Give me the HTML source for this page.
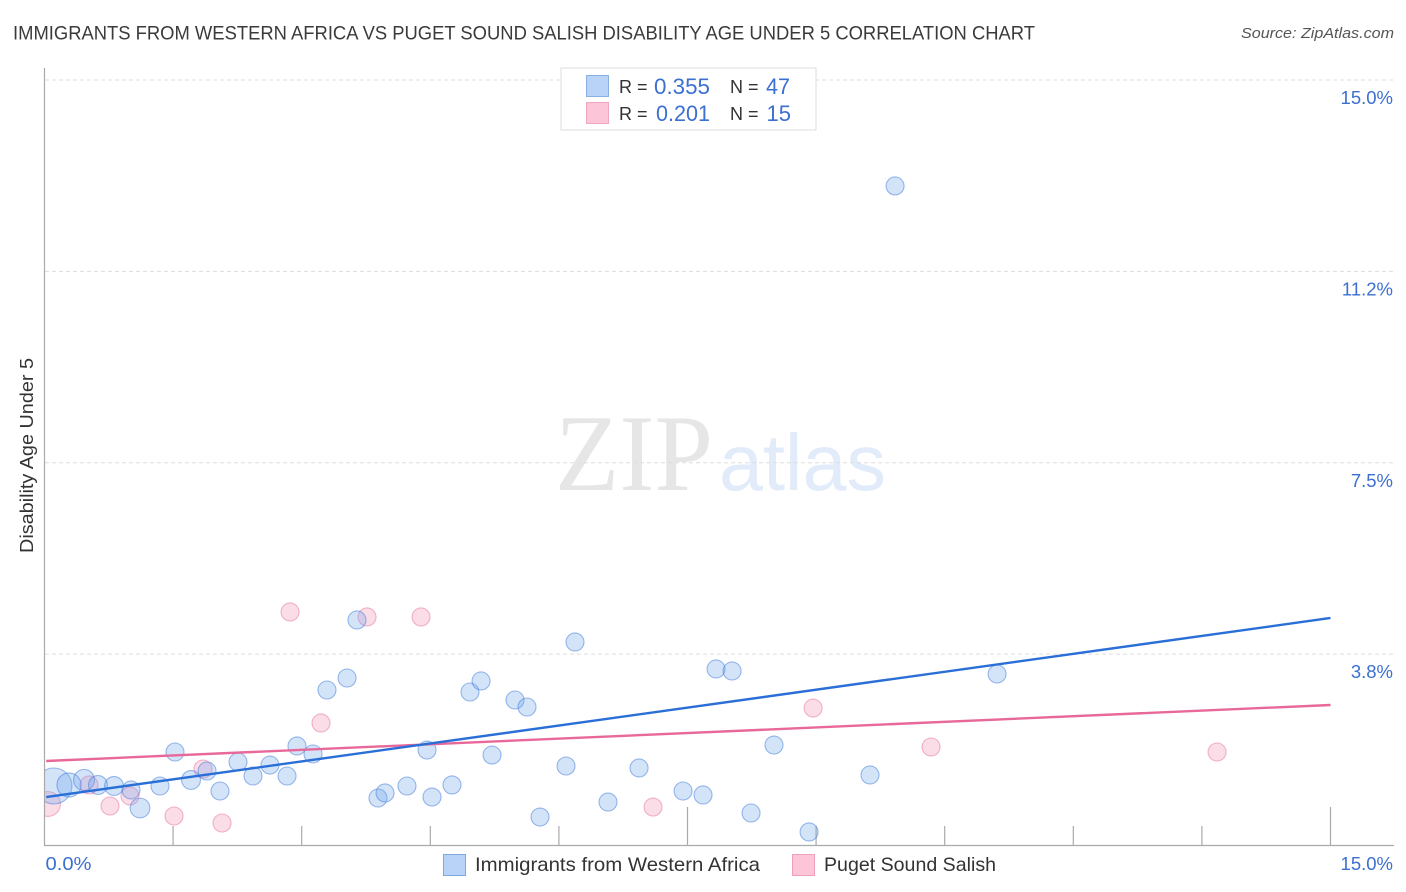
<!DOCTYPE html>
<html lang="en">
<head>
<meta charset="utf-8">
<title>Immigrants from Western Africa vs Puget Sound Salish Disability Age Under 5 Correlation Chart</title>
<style>
html,body{margin:0;padding:0;background:#fff;}
svg{display:block;font-family:"Liberation Sans",sans-serif;}
</style>
</head>
<body>
<svg id="chart" xmlns="http://www.w3.org/2000/svg" width="1406" height="892" viewBox="0 0 1406 892">
  <defs>
    <clipPath id="plot-clip"><rect x="45" y="68" width="1349" height="777"/></clipPath>
  </defs>
  <rect x="0" y="0" width="1406" height="892" fill="#ffffff"/>
  <text x="13" y="39.5" font-size="19.5" fill="#3a3a3a" textLength="1022" lengthAdjust="spacingAndGlyphs">IMMIGRANTS FROM WESTERN AFRICA VS PUGET SOUND SALISH DISABILITY AGE UNDER 5 CORRELATION CHART</text>
  <text x="1394" y="38" font-size="15" font-style="italic" fill="#555555" text-anchor="end" textLength="153" lengthAdjust="spacingAndGlyphs">Source: ZipAtlas.com</text>

  <g>
    <text x="555" y="490" font-family="'Liberation Serif',serif" font-size="109" fill="#e6e6e6" textLength="158" lengthAdjust="spacingAndGlyphs">ZIP</text>
    <text x="719" y="490" font-size="80" fill="#e1ebf9" textLength="167" lengthAdjust="spacingAndGlyphs">atlas</text>
  </g>

  <g id="grid"></g>
  <g id="x-ticks"></g>
  <line x1="44.5" y1="68" x2="44.5" y2="845.5" stroke="#aaaaaa" stroke-width="1.2"/>
  <line x1="44" y1="845.5" x2="1394" y2="845.5" stroke="#aaaaaa" stroke-width="1.2"/>
  <g id="points" clip-path="url(#plot-clip)"></g>
  <g id="trends"></g>
  <g id="y-labels"></g>
  <g id="x-labels"></g>

  <text transform="translate(33,553) rotate(-90)" font-size="18.5" fill="#333333" textLength="195" lengthAdjust="spacingAndGlyphs">Disability Age Under 5</text>

  <g>
    <rect x="561" y="68" width="255" height="62" fill="#ffffff" stroke="#dddddd" stroke-width="1"/>
    <rect x="586.5" y="75.5" width="22" height="21" fill="#b9d3f8" stroke="#8ab0e0" stroke-width="1"/>
    <rect x="586.5" y="102.5" width="22" height="21" fill="#fcc5d8" stroke="#f0a8c2" stroke-width="1"/>
    <text x="619" y="93" font-size="18" fill="#333333">R =</text>
    <text x="710" y="94" font-size="22" fill="#3b6fd0" text-anchor="end" textLength="56" lengthAdjust="spacingAndGlyphs">0.355</text>
    <text x="730" y="93" font-size="18" fill="#333333">N =</text>
    <text x="790" y="94" font-size="22" fill="#3b6fd0" text-anchor="end" textLength="24" lengthAdjust="spacingAndGlyphs">47</text>
    <text x="619" y="120" font-size="18" fill="#333333">R =</text>
    <text x="710" y="121" font-size="22" fill="#3b6fd0" text-anchor="end" textLength="54" lengthAdjust="spacingAndGlyphs">0.201</text>
    <text x="730" y="120" font-size="18" fill="#333333">N =</text>
    <text x="791" y="121" font-size="22" fill="#3b6fd0" text-anchor="end">15</text>
  </g>

  <g>
    <rect x="443.5" y="854.5" width="22" height="21" fill="#b9d3f8" stroke="#7fa8de" stroke-width="1"/>
    <text x="475" y="871" font-size="19.5" fill="#333333" textLength="285" lengthAdjust="spacingAndGlyphs">Immigrants from Western Africa</text>
    <rect x="792.5" y="854.5" width="22" height="21" fill="#fcc5d8" stroke="#f0a0bd" stroke-width="1"/>
    <text x="824" y="871" font-size="19.5" fill="#333333" textLength="172" lengthAdjust="spacingAndGlyphs">Puget Sound Salish</text>
  </g>
</svg>
<script>
const yTickValues = [15, 11.25, 7.5, 3.75];
const yTickLabels = ["15.0%", "11.2%", "7.5%", "3.8%"];
const xTickValues = [1.5, 3, 4.5, 6, 7.5, 9, 10.5, 12, 13.5, 15];
const xMajorTicks = [7.5, 15];
const xEdgeValues = [0, 15];
const xEdgeLabels = ["0.0%", "15.0%"];

const blueX = [0.11,0.286,0.461,0.624,0.811,1.009,1.114,1.347,1.522,1.709,1.896,2.047,2.257,2.432,2.63,2.829,2.945,3.132,3.295,3.529,3.645,3.89,3.972,4.228,4.462,4.52,4.753,4.963,5.092,5.22,5.488,5.628,5.78,6.083,6.188,6.573,6.935,7.448,7.681,7.833,8.02,8.241,8.509,8.918,9.629,9.921,11.111];
const blueY = [1.166,1.186,1.284,1.186,1.166,1.088,0.735,1.166,1.832,1.284,1.46,1.068,1.636,1.362,1.577,1.362,1.95,1.793,3.047,3.282,4.419,0.931,1.029,1.166,1.871,0.95,1.186,3.008,3.224,1.773,2.851,2.714,0.558,1.558,3.988,0.852,1.519,1.068,0.99,3.459,3.42,0.637,1.969,0.265,1.382,12.924,3.361];
const blueWeight = [4,1.8,1.36,1.1,1.1,1,1.2,1,1,1.1,1,1,1,1,1,1,1,1,1,1,1,1,1,1,1,1,1,1,1,1,1,1,1,1,1,1,1,1,1,1,1,1,1,1,1,1,1];

const pinkX = [0.041,0.519,0.764,0.997,1.511,1.849,2.071,2.864,3.225,3.762,4.392,7.098,8.965,10.341,13.677];
const pinkY = [0.813,1.186,0.774,0.97,0.578,1.499,0.441,4.576,2.401,4.478,4.478,0.754,2.694,1.93,1.832];
const pinkWeight = [1.9,1,1,1,1,1,1,1,1,1,1,1,1,1,1];

const blueTrendX = [0.02, 15];
const blueTrendY = [0.95, 4.458];
const pinkTrendX = [0.02, 15];
const pinkTrendY = [1.656, 2.753];

const SVGNS = 'http://www.w3.org/2000/svg';
function xScale(v) { return 44.5 + v * (1330.5 - 44.5) / 15; }
function yScale(v) { return 845.5 - v * (845.5 - 80) / 15; }
function rScale(w) { return 9 * Math.sqrt(w); }
function make(tag, attrs, parent) {
  const el = document.createElementNS(SVGNS, tag);
  for (const k in attrs) { el.setAttribute(k, attrs[k]); }
  parent.appendChild(el);
  return el;
}

const gridG = document.getElementById('grid');
const yLabG = document.getElementById('y-labels');
yTickValues.forEach(function (v, i) {
  const line = make('line', {x1: 45, x2: 1394, y1: yScale(v), y2: yScale(v), stroke: '#dddddd', 'stroke-width': 1, 'stroke-dasharray': '4 3'}, gridG);
  
  
  const t = make('text', {x: 1393, y: yScale(v) + 24, 'font-size': 18.5, fill: '#3b6fd0', 'text-anchor': 'end'}, yLabG);
  t.textContent = yTickLabels[i];
  
  
});

const tickG = document.getElementById('x-ticks');
xTickValues.forEach(function (v) {
  const major = xMajorTicks.indexOf(v) >= 0;
  const tick = make('line', {x1: xScale(v), x2: xScale(v), y1: major ? 807 : 826, y2: 845.5, stroke: '#aaaaaa', 'stroke-width': 1.2}, tickG);
  
  
});

const xLabG = document.getElementById('x-labels');
xEdgeValues.forEach(function (v, i) {
  const isFirst = i === 0;
  const t = make('text', {x: isFirst ? xScale(v) + 1 : 1393, y: 870, 'font-size': 18.5, fill: '#3b6fd0', 'text-anchor': isFirst ? 'start' : 'end'}, xLabG);
  if (isFirst) {
    t.setAttribute('textLength', '46');
    t.setAttribute('lengthAdjust', 'spacingAndGlyphs');
  }
  t.textContent = xEdgeLabels[i];
  
  
});

const pointsG = document.getElementById('points');
pinkX.forEach(function (v, i) {
  const c = make('circle', {cx: xScale(v), cy: yScale(pinkY[i]), r: rScale(pinkWeight[i]), fill: 'rgba(244,150,185,0.32)', stroke: 'rgba(232,120,165,0.55)', 'stroke-width': 1.1}, pointsG);
  
  
});
blueX.forEach(function (v, i) {
  const c = make('circle', {cx: xScale(v), cy: yScale(blueY[i]), r: rScale(blueWeight[i]), fill: 'rgba(110,165,235,0.3)', stroke: 'rgba(60,120,215,0.5)', 'stroke-width': 1.1}, pointsG);
  
  
});

const trendG = document.getElementById('trends');
const pinkLine = make('line', {x1: xScale(pinkTrendX[0]), y1: yScale(pinkTrendY[0]), x2: xScale(pinkTrendX[1]), y2: yScale(pinkTrendY[1]), stroke: '#e8689a', 'stroke-width': 2.4}, trendG);


const blueLine = make('line', {x1: xScale(blueTrendX[0]), y1: yScale(blueTrendY[0]), x2: xScale(blueTrendX[1]), y2: yScale(blueTrendY[1]), stroke: '#2a6fd8', 'stroke-width': 2.4}, trendG);


</script>
</body>
</html>
